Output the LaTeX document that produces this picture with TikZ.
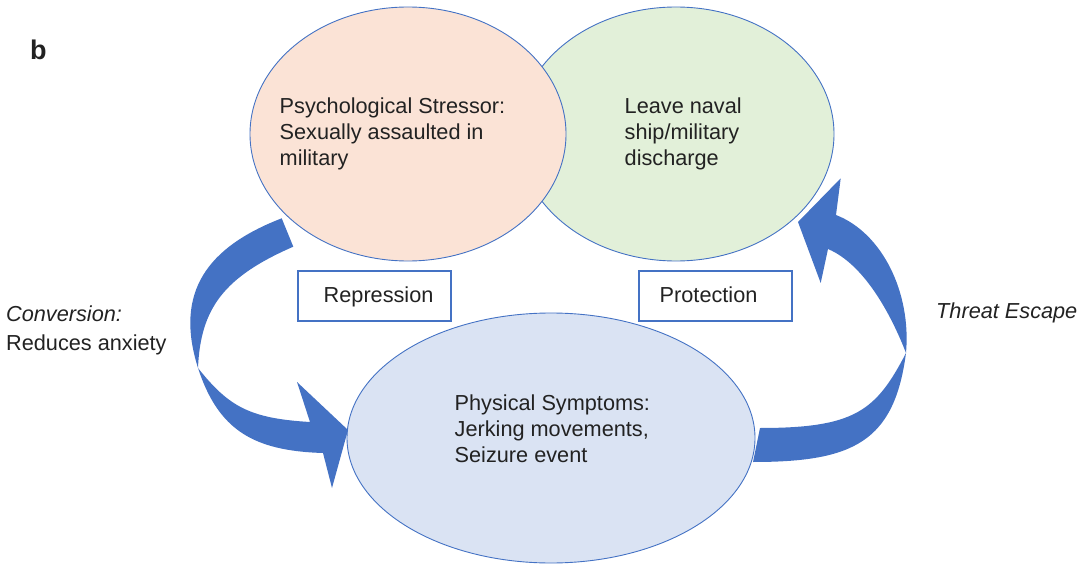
\documentclass[tikz,border=0pt]{standalone}
\usepackage{fontspec}
\setmainfont{Liberation Sans}
\usetikzlibrary{shapes.geometric}
\definecolor{officeblue}{HTML}{4472C4}
\definecolor{stressfill}{HTML}{FBE3D6}
\definecolor{escapefill}{HTML}{E2F0D9}
\definecolor{symptomfill}{HTML}{DAE3F3}
\definecolor{ink}{HTML}{222222}
\begin{document}
\begin{tikzpicture}[x=1pt,y=-1pt,
  bubble/.style={ellipse, draw=officeblue, line width=0.9pt, inner sep=0pt},
  labelbox/.style={draw=officeblue, line width=2.2pt, fill=white,
    minimum width=153pt, minimum height=50pt, inner sep=0pt},
  txt/.style={anchor=base west, inner sep=0pt, text=ink,
    font=\fontsize{21.7}{26}\selectfont},
  bigarrow/.style={fill=officeblue}]
\useasboundingbox (0,0) rectangle (1084,569);

% the three states of the cycle
\node[bubble, fill=escapefill, minimum width=316pt, minimum height=254pt] (escape) at (676,134) {};
\node[bubble, fill=stressfill, minimum width=316pt, minimum height=254pt] (stress) at (408,134) {};
\node[bubble, fill=symptomfill, minimum width=408pt, minimum height=250pt] (symptoms) at (551,438) {};

% mechanism boxes
\node[labelbox] (repbox) at (374.5,296) {};
\node[labelbox] (probox) at (715.5,296) {};

% curved block arrow: stressor -> symptoms
\fill[bigarrow] (281.7,218.3)
  .. controls (207.3,247.1) and (174,292) .. (198,368)
  .. controls (218.2,429.8) and (253,450.9) .. (323,453)
  -- (332,488) -- (348,430) -- (297,382) -- (310,422)
  .. controls (250,418.4) and (229,407) .. (198,368)
  .. controls (200.5,308) and (224.3,276.7) .. (293.3,246.7)
  -- cycle;

% curved block arrow: symptoms -> escape
\fill[bigarrow] (753,462)
  .. controls (853,462) and (894.3,442.1) .. (906,353)
  .. controls (911.4,293) and (882.5,233) .. (836,215)
  -- (840.7,178.3) -- (798,222) -- (820.7,283) -- (828,249)
  .. controls (864.8,264.6) and (891.6,315.8) .. (906,353)
  .. controls (876,410.9) and (855,428) .. (760,428)
  -- cycle;

% texts
\node[anchor=base west, inner sep=0pt, text=ink, font=\fontsize{27}{32}\selectfont\bfseries] (panel) at (30,60) {b};
\node[txt] (stresstext) at (279.5,114) {\begin{tabular}[t]{@{}l@{}}Psychological Stressor:\\Sexually assaulted in\\military\end{tabular}};
\node[txt] (escapetext) at (624.5,114) {\begin{tabular}[t]{@{}l@{}}Leave naval\\ship/military\\discharge\end{tabular}};
\node[txt] (symptomtext) at (454.5,410.5) {\begin{tabular}[t]{@{}l@{}}Physical Symptoms:\\Jerking movements,\\Seizure event\end{tabular}};
\node[txt] (reptext) at (323.5,302) {Repression};
\node[txt] (protext) at (659.5,302) {Protection};
\node[txt, font=\fontsize{21.7}{29.5}\selectfont] (convtext) at (6,321) {\begin{tabular}[t]{@{}l@{}}\itshape Conversion:\\Reduces anxiety\end{tabular}};
\node[txt, font=\fontsize{21.7}{26}\selectfont\itshape] (threattext) at (936,318.5) {Threat Escape};
\end{tikzpicture}
\end{document}
